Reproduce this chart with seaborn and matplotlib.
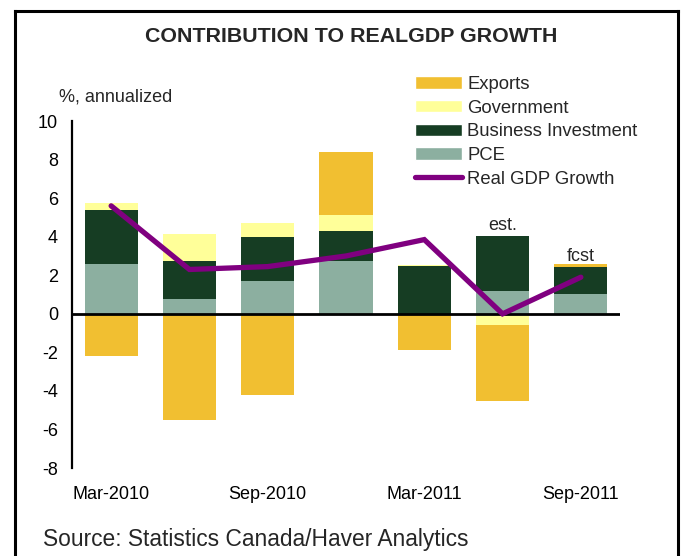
import numpy as np
import matplotlib
matplotlib.use("Agg")
import matplotlib.pyplot as plt
from matplotlib.patches import Patch
from matplotlib.lines import Line2D
import seaborn as sns

# Quarterly contributions to real GDP growth, % annualized
quarters = ["Mar-2010", "Jun-2010", "Sep-2010", "Dec-2010",
            "Mar-2011", "Jun-2011", "Sep-2011"]
tick_labels = ["Mar-2010", "", "Sep-2010", "", "Mar-2011", "", "Sep-2011"]
pce = [2.57, 0.79, 1.71, 2.73, 0.00, 1.21, 1.02]
business_investment = [2.82, 1.97, 2.26, 1.59, 2.46, 2.82, 1.43]
government = [0.38, 1.39, 0.74, 0.81, 0.07, -0.60, -0.05]
exports = [-2.21, -5.49, -4.20, 3.26, -1.86, -3.94, 0.14]
real_gdp_growth = [5.60, 2.30, 2.45, 3.00, 3.85, 0.00, 1.90]
y_ticks = [10, 8, 6, 4, 2, 0, -2, -4, -6, -8]

colors = {
    "Exports": "#F1BF31",
    "Government": "#FFFF99",
    "Business Investment": "#163D23",
    "PCE": "#8CAFA0",
    "Real GDP Growth": "#800080",
}

sns.set_theme(style="white")
plt.rcParams["font.family"] = ["Liberation Sans", "DejaVu Sans"]

fig = plt.figure(figsize=(6.83, 5.56), dpi=100)
ax = fig.add_axes([0.10542, 0.15809, 0.80234, 0.62428])

# stacked bars: positives build upward, negatives build downward
layers = [
    ("PCE", pce),
    ("Business Investment", business_investment),
    ("Government", government),
    ("Exports", exports),
]
pos_base = np.zeros(len(quarters))
neg_base = np.zeros(len(quarters))
for name, vals in layers:
    v = np.asarray(vals, dtype=float)
    bottom = np.where(v >= 0, pos_base, neg_base)
    sns.barplot(x=quarters, y=v, order=quarters, bottom=bottom,
                color=colors[name], saturation=1, width=0.68,
                errorbar=None, linewidth=0, ax=ax)
    pos_base += np.clip(v, 0, None)
    neg_base += np.clip(v, None, 0)

ax.axhline(0, color="black", lw=2.0, zorder=2.5)

sns.lineplot(x=np.arange(len(quarters)), y=real_gdp_growth, sort=False,
             color=colors["Real GDP Growth"], lw=3.8,
             solid_capstyle="round", solid_joinstyle="miter",
             zorder=3, ax=ax)

ax.text(5, 4.6, "est.", ha="center", va="center", fontsize=13)
ax.text(6, 2.95, "fcst", ha="center", va="center", fontsize=13)

ax.set_xlim(-0.5, len(quarters) - 0.5)
ax.set_ylim(-8, 10)
ax.set_yticks(y_ticks)
ax.set_yticklabels([str(t) for t in y_ticks])
ax.set_xticks(range(len(quarters)))
ax.set_xticklabels(tick_labels)
ax.tick_params(axis="y", length=0, pad=10, labelsize=13, labelcolor="black")
ax.tick_params(axis="x", length=0, pad=13, labelsize=13, labelcolor="black")
ax.set_xlabel("")
ax.set_ylabel("")
for side in ["top", "right", "bottom"]:
    ax.spines[side].set_visible(False)
ax.spines["left"].set_color("black")
ax.spines["left"].set_linewidth(1.6)
ax.grid(False)

handles = [
    Patch(facecolor=colors["Exports"], label="Exports"),
    Patch(facecolor=colors["Government"], label="Government"),
    Patch(facecolor=colors["Business Investment"], label="Business Investment"),
    Patch(facecolor=colors["PCE"], label="PCE"),
    Line2D([], [], color=colors["Real GDP Growth"], lw=3.8,
           solid_capstyle="round", label="Real GDP Growth"),
]
fig.legend(handles=handles, loc="upper left",
           bbox_to_anchor=(415 / 683, 1 - 76 / 556),
           frameon=False, fontsize=13.3, handlelength=2.56,
           handleheight=0.65, handletextpad=0.27, labelspacing=0.36,
           borderpad=0, borderaxespad=0)

fig.text(0.514, 1 - 37 / 556, "CONTRIBUTION TO REALGDP GROWTH",
         ha="center", va="center", fontsize=15.4, fontweight="bold")
fig.text(59 / 683, 1 - 97 / 556, "%, annualized",
         ha="left", va="center", fontsize=13)
fig.text(43 / 683, 1 - 545.7 / 556, "Source: Statistics Canada/Haver Analytics",
         ha="left", va="baseline", fontsize=16.4)

# frame around the chart panel (open at the bottom)
frame_kw = dict(color="black", lw=2.2, transform=fig.transFigure,
                solid_capstyle="projecting")
x0, x1 = 15 / 683, 678 / 683
y_top = 1 - 11 / 556
fig.add_artist(Line2D([x0, x0], [0, y_top], **frame_kw))
fig.add_artist(Line2D([x1, x1], [0, y_top], **frame_kw))
fig.add_artist(Line2D([x0, x1], [y_top, y_top], **frame_kw))

fig.savefig("out.png", dpi=100)
